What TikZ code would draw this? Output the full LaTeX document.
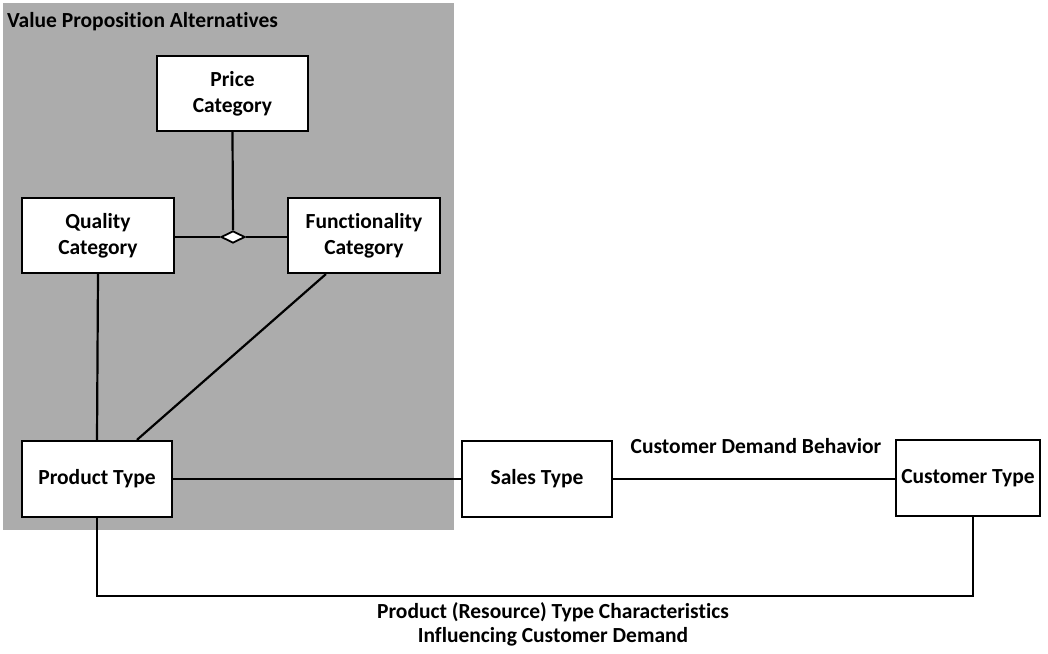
\documentclass[tikz,border=0pt]{standalone}
\usepackage{fontspec}
\setmainfont{Carlito}[Ligatures=NoCommon]
\usetikzlibrary{shapes.geometric}
\definecolor{panelgray}{RGB}{172,172,172}
\begin{document}
\begin{tikzpicture}[x=1pt,y=-1pt,
  ent/.style={draw=black,line width=2.2pt,fill=white,inner sep=0pt,
    align=center,font=\fontsize{21.5}{26}\selectfont\bfseries},
  link/.style={draw=black,line width=2.2pt},
  lbl/.style={font=\fontsize{21.5}{24}\selectfont\bfseries,align=center,inner sep=0pt}]
\useasboundingbox (0,0) rectangle (1048,653);
% shaded panel grouping the value proposition entities
\fill[panelgray] (3,3) rectangle (454,530);
\node[lbl,anchor=west] (title) at (7,22) {Value Proposition Alternatives};

% entities
\node[ent,minimum width=151pt,minimum height=75pt] (price) at (232.5,93.5) {Price\\Category};
\node[ent,minimum width=152pt,minimum height=75pt] (quality) at (98,235.5) {Quality\\Category};
\node[ent,minimum width=152pt,minimum height=75pt] (func) at (364,235.5) {Functionality\\Category};
\node[ent,minimum width=150pt,minimum height=76pt] (prod) at (97,479) {Product Type};
\node[ent,minimum width=150pt,minimum height=76pt] (sales) at (537,479) {Sales Type};
\node[ent,minimum width=144pt,minimum height=76pt] (cust) at (968,478) {Customer Type};

% aggregation diamond joining the three categories
\node[diamond,draw=black,fill=white,line width=1.8pt,inner sep=0pt,
  minimum width=24pt,minimum height=12pt] (agg) at (233,237) {};

% connectors
\draw[link] (price.south) -- (agg.north);
\draw[link] (quality.east |- agg.west) -- (agg.west);
\draw[link] (agg.east) -- (func.west |- agg.east);
\draw[link] (quality.south) -- (prod.north);
\draw[link] ([xshift=39pt]func.south west) -- ([xshift=116pt]prod.north west);
\draw[link] (prod.east) -- (sales.west);
\draw[link] (sales.east) -- (sales.east -| cust.west);
\draw[link] (prod.south) -- ++(0,78) -| ([xshift=5pt]cust.south);

% relationship labels
\node[lbl] (cdb) at (756,446) {Customer Demand Behavior};
\node[lbl] (ptc) at (553,624) {Product (Resource) Type Characteristics\\Influencing Customer Demand};
\end{tikzpicture}
\end{document}
